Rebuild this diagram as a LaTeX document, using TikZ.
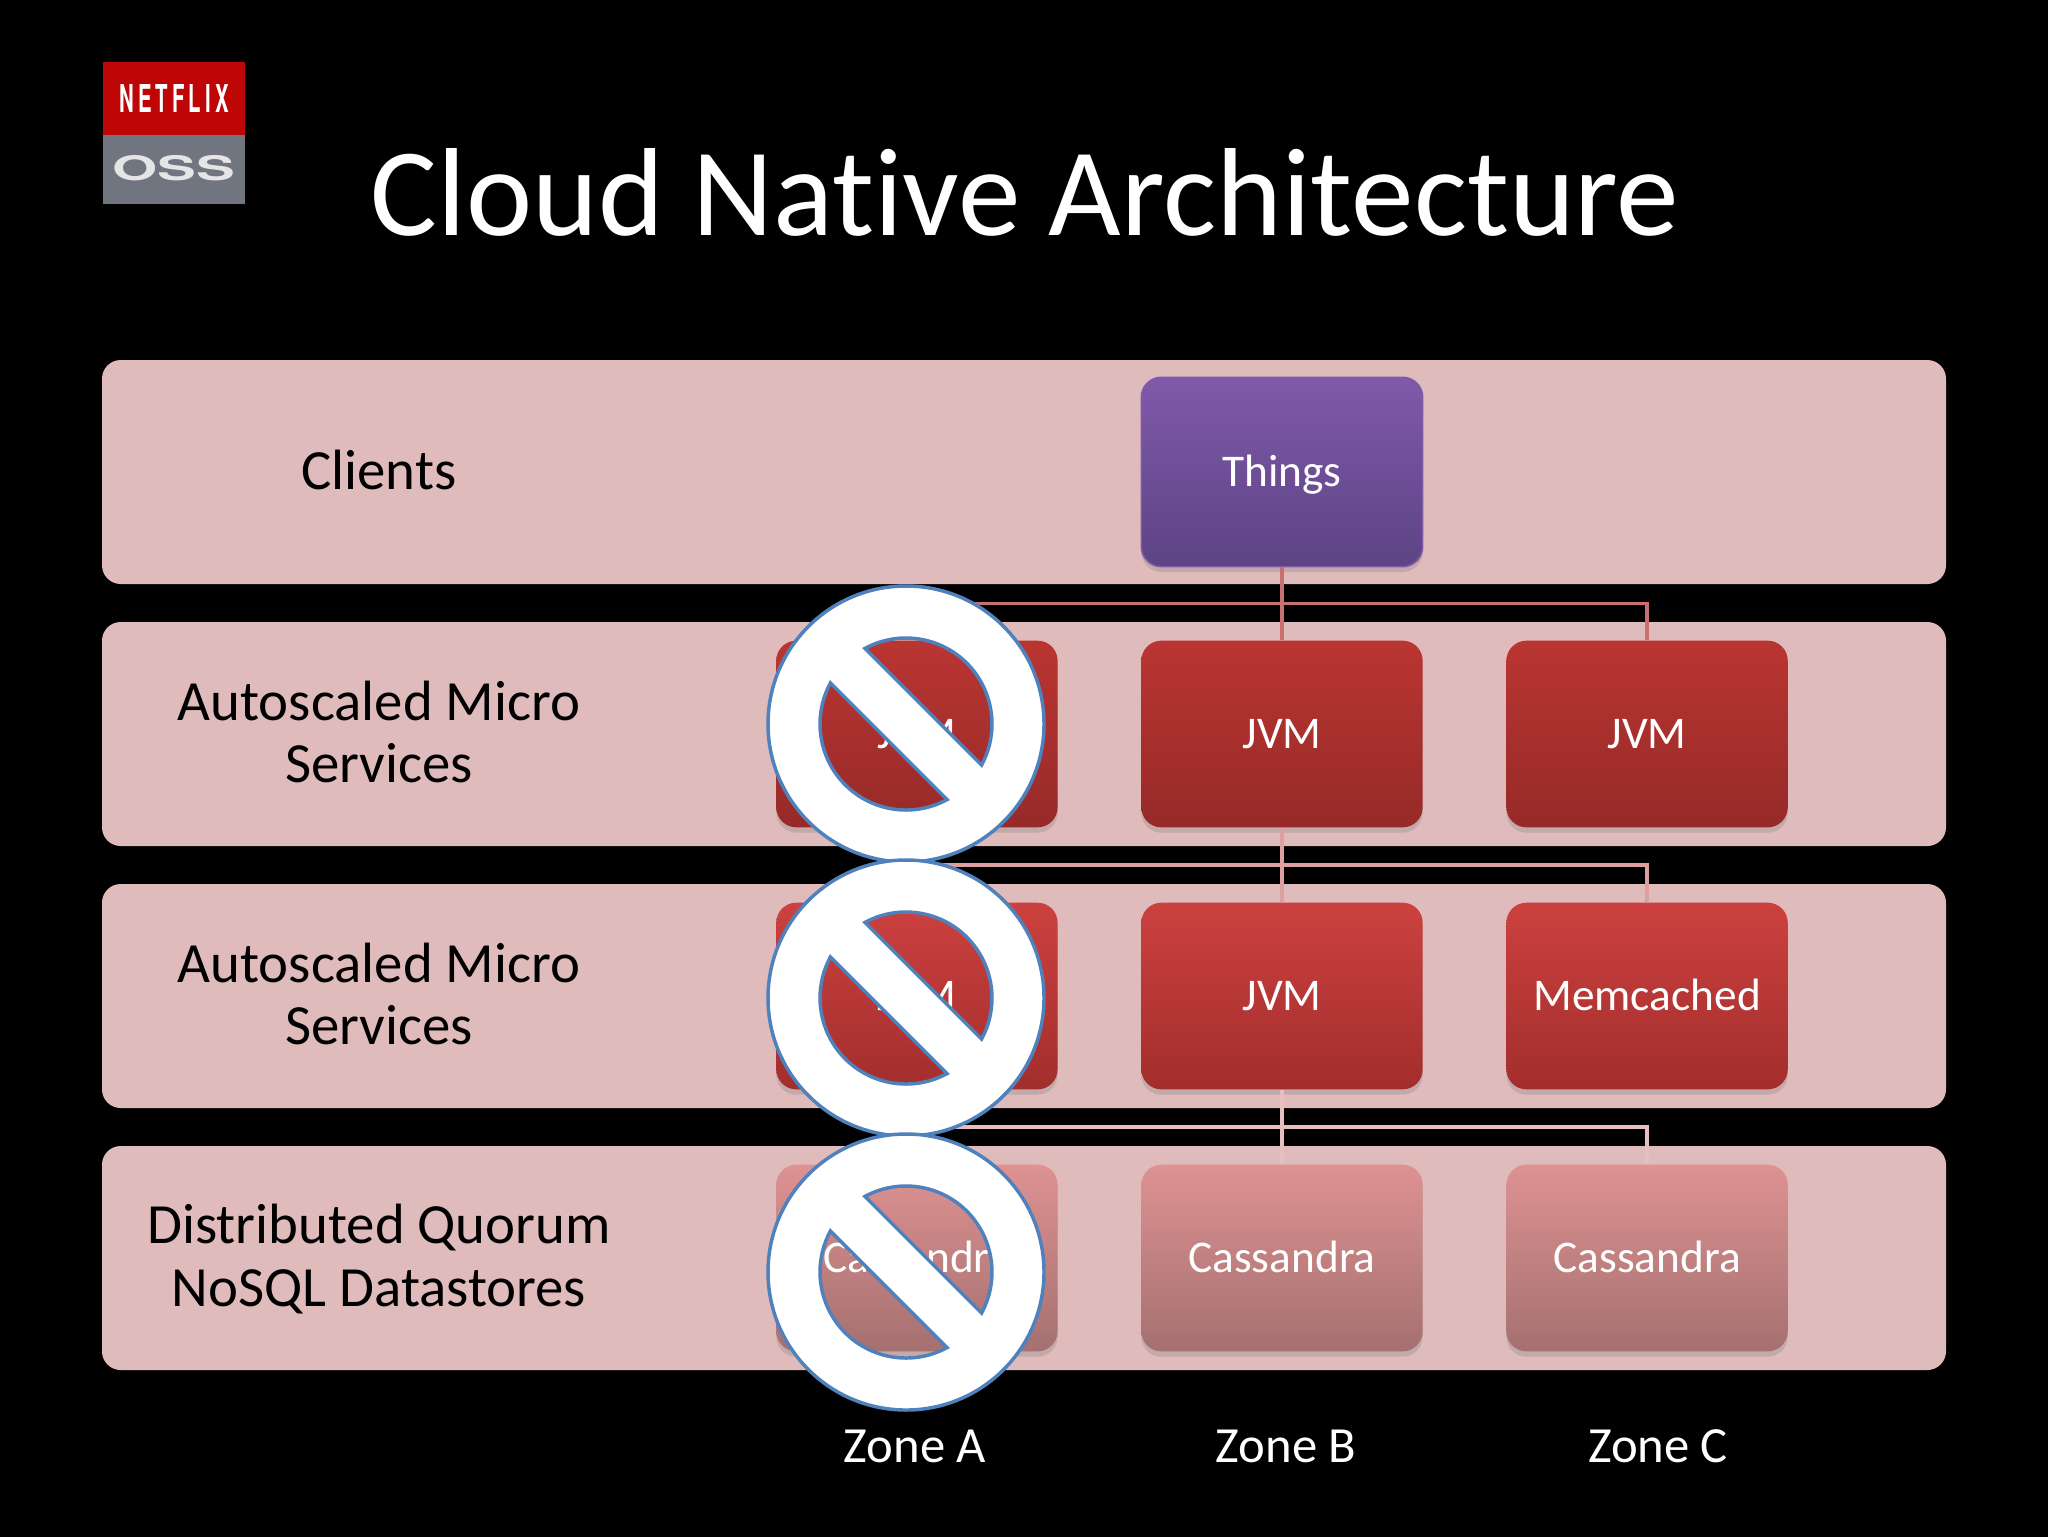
\documentclass[tikz,border=0pt]{standalone}
\usepackage{fontspec}
\setmainfont[Ligatures=NoCommon]{Carlito}
\newfontfamily\logofont{TeX Gyre Heros}
\usetikzlibrary{shadows}

\definecolor{bandpink}{HTML}{E0BBBB}
\definecolor{signblue}{HTML}{4F81BD}
\definecolor{thingtop}{HTML}{8059AA}
\definecolor{thingbot}{HTML}{5C4484}
\definecolor{jvmtop}{HTML}{BA3532}
\definecolor{jvmbot}{HTML}{962A28}
\definecolor{cachetop}{HTML}{CC4140}
\definecolor{cachebot}{HTML}{A22E2C}
\definecolor{storetop}{HTML}{DE9292}
\definecolor{storebot}{HTML}{A57070}
\definecolor{lineone}{HTML}{C87070}
\definecolor{linetwo}{HTML}{DDA0A0}
\definecolor{linethree}{HTML}{E8BFC0}
\definecolor{logored}{HTML}{BE0606}
\definecolor{logogray}{HTML}{70757F}

\begin{document}
\begin{tikzpicture}[x=0.375pt, y=-0.375pt, node distance=98.25pt]
    \tikzstyle{band} = [rectangle, fill=bandpink, minimum width=691.5pt, minimum height=84pt, rounded corners=7pt, inner sep=0pt]
    \tikzstyle{zonebox} = [rectangle, rounded corners=7.5pt, minimum width=105.5pt, minimum height=70pt, inner sep=0pt, text=white, text height=10.9pt, text depth=0pt, font=\fontsize{17}{20}\selectfont, drop shadow={shadow xshift=0pt, shadow yshift=-2pt, opacity=0.3}]
    \tikzstyle{thingbox} = [zonebox, minimum height=71pt, top color=thingtop, bottom color=thingbot, draw=thingtop, line width=0.6pt]
    \tikzstyle{jvmbox} = [zonebox, top color=jvmtop, bottom color=jvmbot]
    \tikzstyle{cachebox} = [zonebox, top color=cachetop, bottom color=cachebot]
    \tikzstyle{storebox} = [zonebox, top color=storetop, bottom color=storebot]
    \tikzstyle{rowlabel} = [align=center, text=black, font=\fontsize{21.3}{23.6}\selectfont]
    \tikzstyle{zonelabel} = [text=white, font=\fontsize{19}{23}\selectfont]
    \tikzstyle{line} = [line width=1.3pt]
    \tikzstyle{nofill} = [fill=white, draw=signblue, line width=1.3pt, even odd rule]
    \tikzset{nosign/.pic={
        \path [nofill] (0,0) circle [radius=138]
            (-118.5:86) arc [start angle=-118.5, end angle=28.5, radius=86] -- cycle
            (61.5:86) arc [start angle=61.5, end angle=208.5, radius=86] -- cycle;
    }}

    \useasboundingbox (0,0) rectangle (2048,1536);
    \fill [black] (-4,-4) rectangle (2052,1540);

    % logo
    \fill [logored] (103,62) rectangle (245,135);
    \fill [logogray] (103,135) rectangle (245,204);
    \node [text=white] (netflix) at (174,98) {\resizebox{41pt}{10.5pt}{\logofont\bfseries\addfontfeature{LetterSpace=20}NETFLIX}};
    \node [text=white!90!black] (oss) at (174,168) {\resizebox{46pt}{9.4pt}{\logofont\bfseries OSS}};

    \node [text=white, font=\fontsize{47}{56}\selectfont] (title) at (1025,192) {Cloud Native Architecture};

    % rows
    \node [band] (rowclients) at (1024,472) {};
    \node [band, below of=rowclients] (rowedge) {};
    \node [band, below of=rowedge] (rowmid) {};
    \node [band, below of=rowmid] (rowdata) {};

    \coordinate (things0) at (1282,472);
    \coordinate (busone) at (1282,603.5);
    \coordinate (bustwo) at (1282,865);
    \coordinate (busthree) at (1282,1127);

    \node [thingbox] (things) at (things0) {Things};
    \node [jvmbox, below of=things] (jvmb) {JVM};
    \node [jvmbox, left of=jvmb, node distance=136.9pt] (jvma) {JVM};
    \node [jvmbox, right of=jvmb, node distance=136.9pt] (jvmc) {JVM};
    \node [cachebox, below of=jvmb] (midb) {JVM};
    \node [cachebox, below of=jvma] (mida) {JVM};
    \node [cachebox, below of=jvmc] (midc) {Memcached};
    \node [storebox, below of=midb] (casb) {Cassandra};
    \node [storebox, below of=mida] (casa) {Cassandra};
    \node [storebox, below of=midc] (casc) {Cassandra};

    \path [line, draw=lineone] (things) -- (jvmb);
    \path [line, draw=lineone] (busone) -| (jvma);
    \path [line, draw=lineone] (busone) -| (jvmc);
    \path [line, draw=linetwo] (jvmb) -- (midb);
    \path [line, draw=linetwo] (bustwo) -| (mida);
    \path [line, draw=linetwo] (bustwo) -| (midc);
    \path [line, draw=linethree] (midb) -- (casb);
    \path [line, draw=linethree] (busthree) -| (casa);
    \path [line, draw=linethree] (busthree) -| (casc);

    \node [rowlabel] (lblclients) at (379,470) {Clients};
    \node [rowlabel, below of=lblclients] (lbledge) {Autoscaled Micro\\Services};
    \node [rowlabel, below of=lbledge] (lblmid) {Autoscaled Micro\\Services};
    \node [rowlabel, below of=lblmid, yshift=-1.2pt] (lbldata) {Distributed Quorum\\NoSQL Datastores};

    \pic at (906,724) {nosign};
    \pic at (906,998) {nosign};
    \pic at (906,1272) {nosign};

    \node [zonelabel] (zonea) at (915,1446) {Zone A};
    \node [zonelabel] (zoneb) at (1286,1446) {Zone B};
    \node [zonelabel] (zonec) at (1658,1446) {Zone C};
\end{tikzpicture}
\end{document}
